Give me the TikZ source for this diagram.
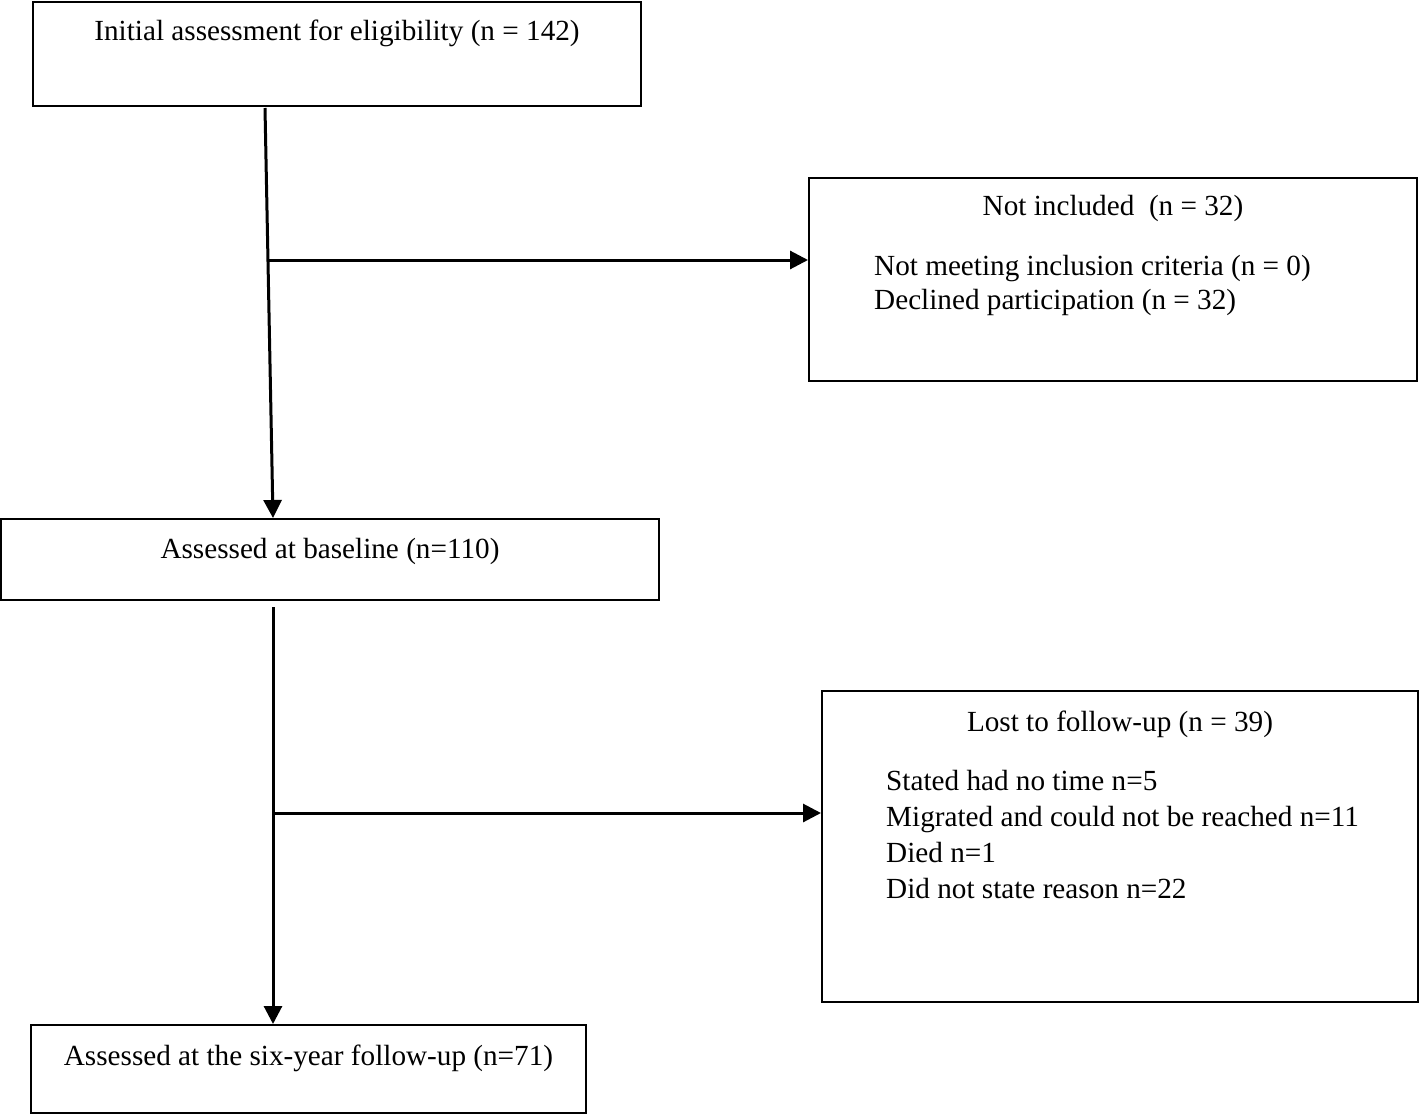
\documentclass[tikz,border=0pt]{standalone}
\usepackage{fontspec}
\setmainfont{Liberation Serif}
\usetikzlibrary{arrows.meta}
\begin{document}
\begin{tikzpicture}[x=1pt,y=-1pt,
  box/.style={draw=black,line width=2pt,rectangle,inner sep=0pt},
  txt/.style={inner sep=0pt,anchor=base,font=\fontsize{29.2}{35.5}\selectfont},
  ltxt/.style={inner sep=0pt,anchor=base west,font=\fontsize{29.2}{35.5}\selectfont},
  arr/.style={line width=3pt,-{Triangle[length=18pt,width=18pt]}},
  ln/.style={line width=3pt}]
\useasboundingbox (0,0) rectangle (1420,1115);
\fill[white] (0,0) rectangle (1420,1115);
% boxes
\node[box,minimum width=608pt,minimum height=104pt] (top) at (337,54) {};
\node[box,minimum width=608pt,minimum height=203pt] (nin) at (1113,279.5) {};
\node[box,minimum width=658pt,minimum height=81pt] (base) at (330,559.5) {};
\node[box,minimum width=596pt,minimum height=311pt] (lost) at (1120,846.5) {};
\node[box,minimum width=555pt,minimum height=88pt] (fu) at (308.5,1069) {};
% texts
\node[txt] (ttop) at (337,41) {Initial assessment for eligibility (n = 142)};
\node[txt] (tnin) at (1113,216) {Not included\ \ (n = 32)};
\node[ltxt] (tnin1) at (874,275) {Not meeting inclusion criteria (n = 0)};
\node[ltxt] (tnin2) at (874,309) {Declined participation (n = 32)};
\node[txt] (tbase) at (330,558) {Assessed at baseline (n=110)};
\node[txt] (tlost) at (1120,731) {Lost to follow-up (n = 39)};
\node[ltxt] (tl1) at (886,790) {Stated had no time n=5};
\node[ltxt] (tl2) at (886,826) {Migrated and could not be reached n=11};
\node[ltxt] (tl3) at (886,862) {Died n=1};
\node[ltxt] (tl4) at (886,898) {Did not state reason n=22};
\node[txt] (tfu) at (308.5,1065) {Assessed at the six-year follow-up (n=71)};
% connectors
\coordinate (a1) at (265,108);
\coordinate (b1) at (273,518);
\coordinate (j1) at (269.3,260);
\coordinate (a2) at (273,607);
\coordinate (b2) at (273,1024);
\coordinate (j2) at (273,813);
\draw[arr] (a1) -- (b1);
\draw[arr] (j1) -- (nin.west |- j1);
\draw[arr] (a2) -- (b2);
\draw[arr] (j2) -- (lost.west |- j2);
\end{tikzpicture}
\end{document}
